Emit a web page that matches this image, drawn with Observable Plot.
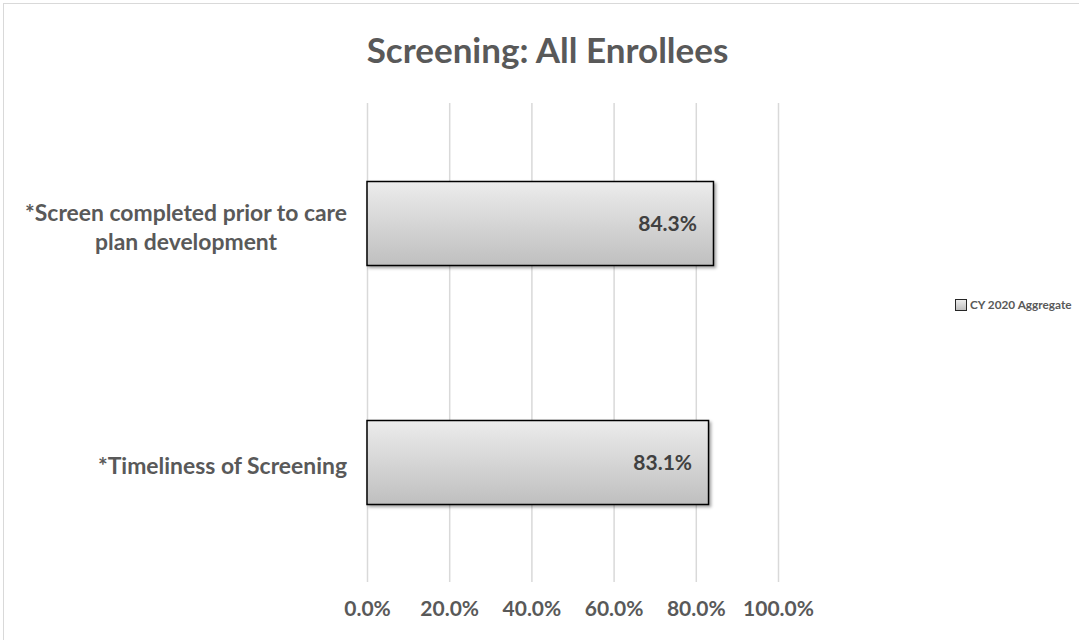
<!DOCTYPE html>
<html><head><meta charset="utf-8">
<script src="https://cdn.jsdelivr.net/npm/d3@7"></script>
<script src="https://cdn.jsdelivr.net/npm/@observablehq/plot@0.6"></script>
<style>
body{margin:0;background:#fff;font-family:Lato,sans-serif;}
#wrap{position:relative;width:1079px;height:640px;overflow:hidden;background:#fff}
#frame{position:absolute;left:3px;top:3px;width:1100px;height:660px;border-left:1.5px solid #d9d9d9;border-top:1.5px solid #d9d9d9;box-sizing:border-box}
#title{position:absolute;left:0;top:29px;width:1095px;text-align:center;font-size:35px;line-height:40px;font-weight:700;color:#595959}
#legend{position:absolute;left:955px;top:297px;font-size:11.8px;line-height:16px;font-weight:700;color:#595959;display:flex;align-items:center;white-space:nowrap}
#legend .sw{display:inline-block;width:10px;height:10px;border:1.2px solid #262626;background:linear-gradient(#ececec,#bfbfbf);margin-right:3px}
#chart{position:absolute;left:0;top:0}
</style></head>
<body>
<div id="wrap">
  <div id="chart"></div>
  <div id="frame"></div>
  <div id="title"></div>
  <div id="legend"><span class="sw"></span><span id="legtext"></span></div>
</div>
<script>
const titleText = "Screening: All Enrollees";
const seriesName = "CY 2020 Aggregate";
const categories = ["*Screen completed prior to care plan development", "*Timeliness of Screening"];
const categoryLabels = ["*Screen completed prior to care\nplan development", "*Timeliness of Screening"];
const values = [84.3, 83.1];
const xTicks = [0, 20, 40, 60, 80, 100];

document.getElementById("title").textContent = titleText;
document.getElementById("legtext").textContent = seriesName;

const data = categories.map((c, i) => ({cat: c, label: categoryLabels[i], value: values[i]}));
const pct = d => d.toFixed(1) + "%";

const chart = Plot.plot({
  width: 1079, height: 640,
  marginLeft: 367, marginRight: 301, marginTop: 103, marginBottom: 58,
  style: {fontFamily: "Lato, sans-serif", fontWeight: 700, fontSize: "21px", color: "#595959", background: "transparent"},
  x: {domain: [0, 100], ticks: xTicks, tickFormat: pct, tickSize: 0, tickPadding: 19, label: null},
  y: {domain: categories, padding: 0, axis: null},
  marks: [
    Plot.ruleX(xTicks, {stroke: "#d9d9d9", strokeWidth: 1.5}),
    Plot.barX(data, {x: "value", y: "cat", fill: "url(#barGrad)", stroke: "#000", strokeWidth: 1.5, insetTop: 77.5, insetBottom: 77.5}),
    Plot.text(data, {x: "value", y: "cat", text: d => pct(d.value), textAnchor: "end", dx: -17, fill: "#404040", fontSize: 21, fontWeight: 700}),
    Plot.text(data, {y: "cat", frameAnchor: "left", dx: -180, dy: 2, textAnchor: "middle", text: "label", lineHeight: 1.27, fill: "#595959", fontSize: 22.9, fontWeight: 700})
  ]
});

const svg = d3.select(chart);
const defs = svg.insert("defs", ":first-child");
const g = defs.append("linearGradient").attr("id", "barGrad").attr("x1", 0).attr("y1", 0).attr("x2", 0).attr("y2", 1);
g.append("stop").attr("offset", "0%").attr("stop-color", "#ececec");
g.append("stop").attr("offset", "100%").attr("stop-color", "#bfbfbf");
const f = defs.append("filter").attr("id", "shadow").attr("x", "-10%").attr("y", "-20%").attr("width", "130%").attr("height", "160%");
f.append("feDropShadow").attr("dx", 2).attr("dy", 2).attr("stdDeviation", 1.5).attr("flood-color", "#000").attr("flood-opacity", 0.35);
svg.selectAll('g[aria-label="bar"]').attr("filter", "url(#shadow)");

document.getElementById("chart").appendChild(chart);

// right-align each category label block against the axis, keeping lines centred within the block
const labelGroup = svg.selectAll('g[aria-label="text"]').nodes()[1];
if (labelGroup) {
  const svgLeft = chart.getBoundingClientRect().left;
  d3.select(labelGroup).selectAll("text").each(function() {
    const r = this.getBoundingClientRect();
    const shift = 347 - (r.right - svgLeft);
    const t = this.getAttribute("transform") || "";
    this.setAttribute("transform", `translate(${shift},0) ` + t);
  });
}
</script>
</body></html>
